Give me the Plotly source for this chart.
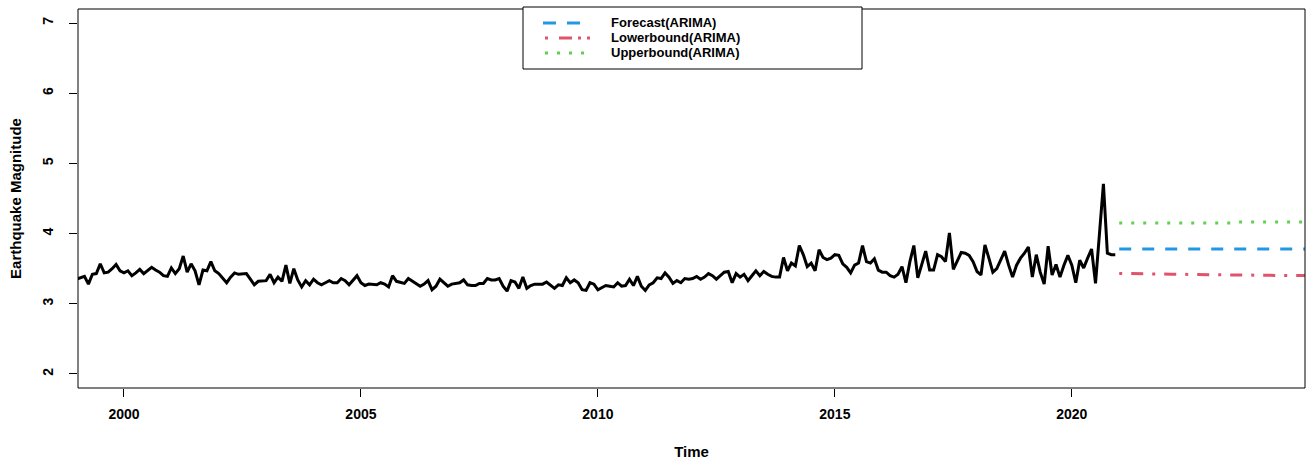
import plotly.graph_objects as go

# ---------------- data ----------------
start_year = 1999  # monthly series, Jan 1999 .. Dec 2020
y1999 = [3.35, 3.37, 3.39, 3.28, 3.42, 3.43, 3.57, 3.44, 3.45, 3.50, 3.56, 3.47]
y2000 = [3.44, 3.47, 3.40, 3.44, 3.49, 3.43, 3.47, 3.52, 3.48, 3.45, 3.40, 3.39]
y2001 = [3.51, 3.43, 3.50, 3.68, 3.45, 3.57, 3.47, 3.27, 3.48, 3.47, 3.60, 3.47]
y2002 = [3.43, 3.36, 3.30, 3.38, 3.44, 3.42, 3.42, 3.43, 3.35, 3.27, 3.32, 3.32]
y2003 = [3.33, 3.42, 3.30, 3.38, 3.32, 3.55, 3.29, 3.50, 3.34, 3.24, 3.33, 3.27]
y2004 = [3.35, 3.30, 3.27, 3.30, 3.33, 3.30, 3.30, 3.36, 3.33, 3.27, 3.34, 3.40]
y2005 = [3.30, 3.26, 3.28, 3.27, 3.27, 3.30, 3.28, 3.24, 3.40, 3.32, 3.30, 3.29]
y2006 = [3.36, 3.32, 3.29, 3.25, 3.28, 3.33, 3.20, 3.25, 3.35, 3.30, 3.25, 3.28]
y2007 = [3.29, 3.30, 3.34, 3.27, 3.26, 3.26, 3.29, 3.29, 3.36, 3.34, 3.34, 3.36]
y2008 = [3.25, 3.18, 3.33, 3.31, 3.22, 3.38, 3.22, 3.26, 3.28, 3.28, 3.28, 3.31]
y2009 = [3.26, 3.22, 3.27, 3.26, 3.37, 3.30, 3.34, 3.30, 3.20, 3.19, 3.30, 3.28]
y2010 = [3.20, 3.23, 3.26, 3.25, 3.24, 3.30, 3.25, 3.26, 3.35, 3.26, 3.39, 3.25]
y2011 = [3.19, 3.27, 3.30, 3.37, 3.36, 3.44, 3.38, 3.29, 3.33, 3.30, 3.36, 3.35]
y2012 = [3.36, 3.39, 3.35, 3.38, 3.43, 3.40, 3.35, 3.40, 3.45, 3.46, 3.30, 3.43]
y2013 = [3.38, 3.42, 3.33, 3.40, 3.47, 3.40, 3.46, 3.42, 3.39, 3.38, 3.38, 3.66]
y2014 = [3.47, 3.58, 3.54, 3.83, 3.70, 3.53, 3.58, 3.47, 3.77, 3.66, 3.63, 3.65]
y2015 = [3.70, 3.69, 3.57, 3.52, 3.44, 3.55, 3.58, 3.83, 3.60, 3.58, 3.64, 3.48]
y2016 = [3.45, 3.45, 3.40, 3.38, 3.42, 3.53, 3.30, 3.60, 3.83, 3.37, 3.55, 3.75]
y2017 = [3.48, 3.48, 3.70, 3.67, 3.60, 4.01, 3.49, 3.62, 3.73, 3.72, 3.69, 3.60]
y2018 = [3.46, 3.41, 3.84, 3.65, 3.45, 3.50, 3.62, 3.75, 3.55, 3.38, 3.55, 3.65]
y2019 = [3.72, 3.81, 3.38, 3.70, 3.45, 3.28, 3.82, 3.41, 3.56, 3.38, 3.55, 3.69]
y2020 = [3.55, 3.30, 3.62, 3.51, 3.65, 3.78, 3.29, 4.05, 4.71, 3.72, 3.70, 3.70]

fc_start_year = 2021  # monthly forecast, Jan 2021 .. Dec 2024
forecast = [3.78, 3.78, 3.78, 3.78, 3.78, 3.78, 3.78, 3.78, 3.78, 3.78, 3.78, 3.78,
            3.78, 3.78, 3.78, 3.78, 3.78, 3.78, 3.78, 3.78, 3.78, 3.78, 3.78, 3.78,
            3.78, 3.78, 3.78, 3.78, 3.78, 3.78, 3.78, 3.78, 3.78, 3.78, 3.78, 3.78,
            3.78, 3.78, 3.78, 3.78, 3.78, 3.78, 3.78, 3.78, 3.78, 3.78, 3.78, 3.78]
lower = [3.432, 3.432, 3.431, 3.430, 3.429, 3.428, 3.427, 3.426, 3.425, 3.424, 3.424, 3.423,
         3.422, 3.422, 3.421, 3.420, 3.419, 3.418, 3.418, 3.417, 3.416, 3.415, 3.415, 3.414,
         3.413, 3.413, 3.412, 3.412, 3.411, 3.410, 3.405, 3.405, 3.404, 3.404, 3.404, 3.404,
         3.404, 3.404, 3.403, 3.403, 3.403, 3.403, 3.403, 3.402, 3.402, 3.402, 3.402, 3.402]
upper = [4.150, 4.150, 4.150, 4.150, 4.150, 4.150, 4.150, 4.150, 4.150, 4.150, 4.150, 4.150,
         4.150, 4.150, 4.150, 4.150, 4.150, 4.150, 4.150, 4.150, 4.150, 4.150, 4.150, 4.150,
         4.150, 4.150, 4.150, 4.150, 4.150, 4.150, 4.164, 4.164, 4.164, 4.164, 4.164, 4.164,
         4.164, 4.164, 4.164, 4.164, 4.164, 4.164, 4.164, 4.164, 4.164, 4.164, 4.164, 4.164]

x_ticks = [2000, 2005, 2010, 2015, 2020]
y_ticks = [2, 3, 4, 5, 6, 7]
legend_labels = ["Forecast(ARIMA)", "Lowerbound(ARIMA)", "Upperbound(ARIMA)"]

series = (y1999 + y2000 + y2001 + y2002 + y2003 + y2004 + y2005 + y2006 + y2007 + y2008 +
          y2009 + y2010 + y2011 + y2012 + y2013 + y2014 + y2015 + y2016 + y2017 + y2018 +
          y2019 + y2020)
t_obs = [start_year + i / 12 for i in range(len(series))]
t_fc = [fc_start_year + i / 12 for i in range(len(forecast))]

FONT = "Liberation Sans, Arial, sans-serif"
BLUE, RED, GREEN = "#2297E6", "#DF536B", "#61D04F"
DASH_FC, DASH_LO, DASH_UP = "12px,11px", "3px,9px,12px,9px", "3px,9px"

fig = go.Figure()
fig.add_trace(go.Scatter(x=t_obs, y=series, mode="lines", showlegend=False, name="Observed",
                         line=dict(color="black", width=3)))
fig.add_trace(go.Scatter(x=t_fc, y=forecast, mode="lines", name=legend_labels[0], showlegend=False,
                         line=dict(color=BLUE, width=3, dash=DASH_FC)))
fig.add_trace(go.Scatter(x=t_fc, y=lower, mode="lines", name=legend_labels[1], showlegend=False,
                         line=dict(color=RED, width=3, dash=DASH_LO)))
fig.add_trace(go.Scatter(x=t_fc, y=upper, mode="lines", name=legend_labels[2], showlegend=False,
                         line=dict(color=GREEN, width=3, dash=DASH_UP)))

L, R, T, B = 78, 4, 9, 73
W, H = 1309, 461
pw, ph = W - L - R, H - T - B


def px_x(p):
    return (p - L) / pw


def px_y(p):
    return (H - B - p) / ph


shapes = [
    dict(type="rect", xref="paper", yref="paper", x0=0, x1=1, y0=0, y1=1,
         line=dict(color="black", width=1), fillcolor="rgba(0,0,0,0)", layer="above"),
    dict(type="rect", xref="paper", yref="paper",
         x0=px_x(523), x1=px_x(862), y0=px_y(69), y1=px_y(7),
         line=dict(color="black", width=1), fillcolor="white", layer="above"),
]
annotations = []
legend_rows = [(23, BLUE, "13px,11px", 543, 580),
               (38, RED, "3px,11px,13px,6px,3px,6px", 545, 590),
               (53, GREEN, "3px,9px", 545, 584)]
for (py, col, dash, xa, xb), lab in zip(legend_rows, legend_labels):
    shapes.append(dict(type="line", xref="paper", yref="paper",
                       x0=px_x(xa), x1=px_x(xb), y0=px_y(py), y1=px_y(py),
                       line=dict(color=col, width=3, dash=dash), layer="above"))
    annotations.append(dict(xref="paper", yref="paper", x=px_x(609), y=px_y(py),
                            xanchor="left", yanchor="middle", showarrow=False, text=lab,
                            font=dict(family=FONT, size=13, color="black", weight="bold")))

fig.update_layout(
    width=W, height=H,
    margin=dict(l=L, r=R, t=T, b=B),
    paper_bgcolor="white", plot_bgcolor="white",
    font=dict(family=FONT, color="black", size=13),
    showlegend=False,
    xaxis=dict(range=[1999.03, 2024.92], tickmode="array", tickvals=x_ticks,
               ticktext=[str(v) for v in x_ticks],
               showgrid=False, zeroline=False, showline=False,
               ticks="outside", ticklen=8, tickwidth=1, tickcolor="black",
               ticklabelstandoff=5,
               tickfont=dict(family=FONT, size=14, color="black", weight="bold"),
               title=dict(text="Time", standoff=25,
                          font=dict(family=FONT, size=15, color="black", weight="bold"))),
    yaxis=dict(range=[1.8, 7.2], tickmode="array", tickvals=y_ticks,
               ticktext=[str(v) for v in y_ticks],
               showgrid=False, zeroline=False, showline=False,
               ticks="outside", ticklen=8, tickwidth=1, tickcolor="black",
               tickangle=-90, ticklabelstandoff=10,
               tickfont=dict(family=FONT, size=14, color="black", weight="bold"),
               title=dict(text="Earthquake Magnitude", standoff=15,
                          font=dict(family=FONT, size=15, color="black", weight="bold"))),
    shapes=shapes,
    annotations=annotations,
)

fig.write_html("out.html")
